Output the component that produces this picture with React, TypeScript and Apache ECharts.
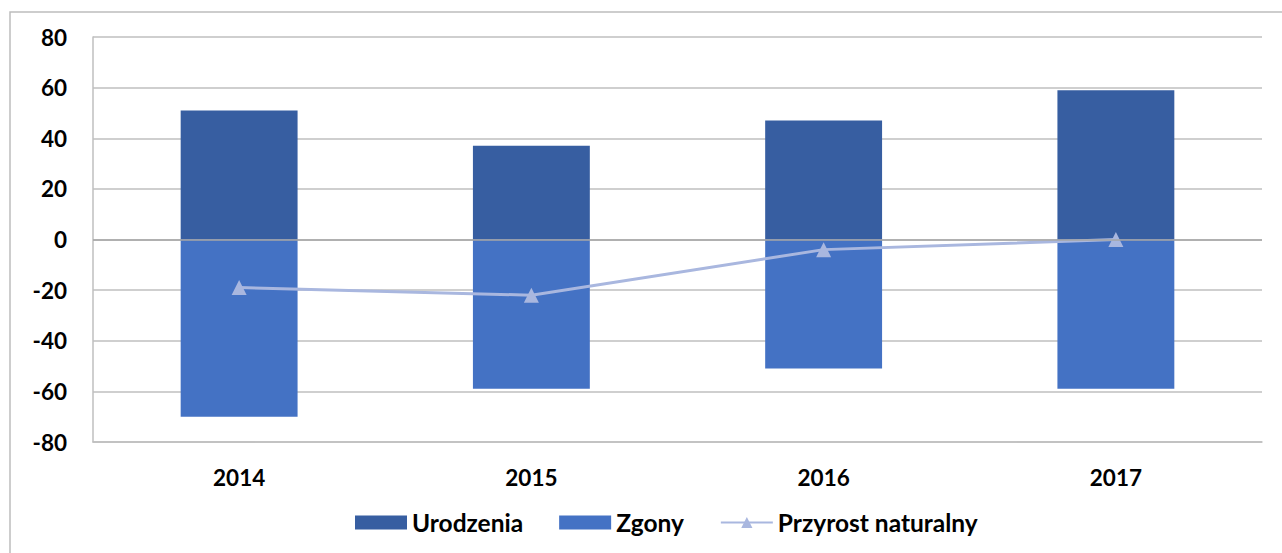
import React, { useEffect, useRef } from "react";
import * as echarts from "echarts";

const categories = ["2014", "2015", "2016", "2017"];
const urodzenia = [51, 37, 47, 59];
const zgony = [-70, -59, -51, -59];
const przyrost = [-19, -22, -4, 0];

const FONT = "Lato, 'Open Sans', sans-serif";

export default function App() {
  const ref = useRef<HTMLDivElement>(null);
  useEffect(() => {
    if (!ref.current) return;
    const chart = echarts.init(ref.current, undefined, { renderer: "svg" });
    chart.setOption({
      animation: false,
      backgroundColor: "#ffffff",
      graphic: [
        {
          type: "rect",
          shape: { x: 10, y: 12, width: 1320, height: 600 },
          style: { fill: "none", stroke: "#BDBDBD", lineWidth: 1.5 },
          silent: true,
        },
      ],
      grid: { left: 93, right: 20, top: 37, bottom: 111, containLabel: false },
      legend: {
        top: 505,
        left: 350,
        itemWidth: 52,
        itemHeight: 14,
        itemGap: 36,
        textStyle: { fontFamily: FONT, fontSize: 24.5, fontWeight: "bold", color: "#000" },
        data: [
          { name: "Urodzenia", icon: "rect" },
          { name: "Zgony", icon: "rect" },
          { name: "Przyrost naturalny" },
        ],
      },
      xAxis: {
        type: "category",
        data: categories,
        axisLine: { onZero: false, lineStyle: { color: "#BFBFBF", width: 1.5 } },
        axisTick: { show: false },
        axisLabel: {
          fontFamily: FONT,
          fontSize: 22.5,
          fontWeight: "bold",
          color: "#000",
          margin: 24,
        },
      },
      yAxis: {
        type: "value",
        min: -80,
        max: 80,
        interval: 20,
        axisLine: { show: true, lineStyle: { color: "#BFBFBF", width: 1.5 } },
        axisTick: { show: false },
        splitLine: { lineStyle: { color: "#BFBFBF", width: 1.5 } },
        axisLabel: {
          fontFamily: FONT,
          fontSize: 22.5,
          fontWeight: "bold",
          color: "#000",
          margin: 26,
        },
      },
      series: [
        {
          name: "Urodzenia",
          type: "bar",
          stack: "s",
          data: urodzenia,
          barWidth: "40%",
          itemStyle: { color: "#375EA1" },
        },
        {
          name: "Zgony",
          type: "bar",
          stack: "s",
          data: zgony,
          barWidth: "40%",
          itemStyle: { color: "#4472C4" },
          markLine: {
            silent: true,
            symbol: "none",
            label: { show: false },
            lineStyle: { color: "#A6A6A6", width: 1.5, type: "solid" },
            data: [{ yAxis: 0 }],
          },
        },
        {
          name: "Przyrost naturalny",
          type: "line",
          data: przyrost,
          symbol: "triangle",
          symbolSize: 15,
          lineStyle: { color: "#A9B7DF", width: 3 },
          itemStyle: { color: "#A9B7DF" },
        },
      ],
    });
    return () => chart.dispose();
  }, []);
  return (
    <div
      ref={ref}
      style={{ position: "absolute", left: 0, top: 0, width: 1282, height: 553 }}
    />
  );
}
